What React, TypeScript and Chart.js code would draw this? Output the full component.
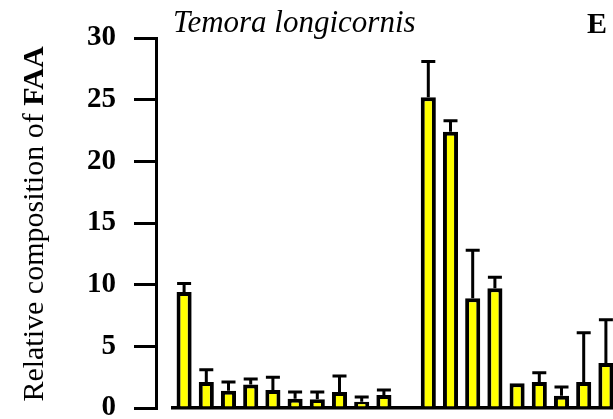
import React, { useEffect, useRef } from "react";
import { Chart, registerables } from "chart.js";

Chart.register(...registerables);

const categories = ["1", "2", "3", "4", "5", "6", "7", "8", "9", "10", "11", "12", "13", "14", "15", "16", "17", "18", "19", "20"];
const values = [9.4, 2.1, 1.4, 1.9, 1.45, 0.75, 0.7, 1.3, 0.5, 1.05, null, 25.2, 22.4, 8.9, 9.7, 2.0, 2.1, 1.0, 2.1, 3.65];
const upperErrors = [10.1, 3.1, 2.1, 2.35, 2.5, 1.3, 1.3, 2.6, 0.9, 1.45, null, 28.1, 23.3, 12.8, 10.6, null, 2.85, 1.7, 6.1, 7.15];
const yTicks = [0, 5, 10, 15, 20, 25, 30];
const titleText = "Temora longicornis";
const panelLetter = "E";
const yTitleNormal = "Relative composition of ";
const yTitleBold = "FAA";

const FONT = "'Liberation Serif', 'Times New Roman', serif";

const errorBarPlugin = {
  id: "errorBars",
  afterDatasetsDraw(chart: any) {
    const meta = chart.getDatasetMeta(0);
    const yScale = chart.scales.y;
    const ctx = chart.ctx;
    ctx.save();
    ctx.strokeStyle = "#000";
    ctx.lineWidth = 3;
    ctx.lineCap = "butt";
    meta.data.forEach((bar: any, i: number) => {
      const e = upperErrors[i];
      const v = values[i];
      if (e == null || v == null) return;
      const x = bar.x;
      const yTop = yScale.getPixelForValue(e);
      const yBar = yScale.getPixelForValue(v);
      ctx.beginPath();
      ctx.moveTo(x, yBar);
      ctx.lineTo(x, yTop);
      ctx.moveTo(x - 7, yTop);
      ctx.lineTo(x + 7, yTop);
      ctx.stroke();
    });
    ctx.restore();
  },
};

const textPlugin = {
  id: "texts",
  afterDraw(chart: any) {
    const ctx = chart.ctx;
    const area = chart.chartArea;
    ctx.save();
    ctx.fillStyle = "#000";
    ctx.textBaseline = "alphabetic";
    ctx.textAlign = "left";
    ctx.font = `italic 31px ${FONT}`;
    ctx.fillText(titleText, area.left, 32);
    ctx.font = `bold 30px ${FONT}`;
    ctx.fillText(panelLetter, 587, 33);

    // y-axis title with mixed weights
    ctx.font = `30px ${FONT}`;
    const w1 = ctx.measureText(yTitleNormal).width;
    ctx.font = `bold 30px ${FONT}`;
    const w2 = ctx.measureText(yTitleBold).width;
    const total = w1 + w2;
    const centerY = (area.top + area.bottom) / 2 + 1;
    ctx.translate(43, centerY);
    ctx.rotate(-Math.PI / 2);
    ctx.font = `30px ${FONT}`;
    ctx.fillText(yTitleNormal, -total / 2, 0);
    ctx.font = `bold 30px ${FONT}`;
    ctx.fillText(yTitleBold, -total / 2 + w1, 0);
    ctx.restore();
  },
};

export default function App() {
  const ref = useRef<HTMLCanvasElement>(null);

  useEffect(() => {
    document.body.style.margin = "0";
    document.body.style.overflow = "hidden";
    const canvas = ref.current;
    if (!canvas) return;
    const chart = new Chart(canvas, {
      type: "bar",
      data: {
        labels: categories,
        datasets: [
          {
            data: values as any,
            backgroundColor: "#ffff00",
            borderColor: "#000",
            borderWidth: 4,
            borderSkipped: "start",
            barPercentage: 0.68,
            categoryPercentage: 1,
            xAxisID: "x",
            yAxisID: "y",
          },
        ],
      },
      options: {
        responsive: false,
        animation: false,
        devicePixelRatio: 1,
        layout: { padding: { top: 38, bottom: 11, left: 0, right: 3 } },
        plugins: {
          legend: { display: false },
          tooltip: { enabled: false },
          title: { display: false },
        },
        scales: {
          x: {
            type: "category",
            offset: true,
            grid: { display: false },
            ticks: { display: false },
            border: { display: true, color: "#000", width: 3.5 },
            afterFit(s: any) {
              s.height = 0;
              s.paddingLeft = 0;
              s.paddingRight = 0;
            },
          },
          y: {
            type: "linear",
            position: "left",
            weight: 1,
            min: 0,
            max: 30,
            afterBuildTicks(s: any) {
              s.ticks = yTicks.map((v) => ({ value: v }));
            },
            ticks: {
              color: "#000",
              padding: 18,
              font: { family: FONT, size: 29, weight: "bold" },
            },
            grid: {
              display: true,
              drawOnChartArea: false,
              drawTicks: true,
              tickLength: 22,
              lineWidth: 3,
              color: "#000",
            },
            border: { display: true, color: "#000", width: 3 },
            afterFit(s: any) {
              s.width = 156;
              s.paddingTop = 0;
              s.paddingBottom = 0;
            },
          },
          gap: {
            type: "linear",
            position: "left",
            weight: 0,
            grid: { display: false },
            ticks: { display: false },
            border: { display: false },
            afterFit(s: any) {
              s.width = 17;
              s.paddingTop = 0;
              s.paddingBottom = 0;
            },
          },
        },
      } as any,
      plugins: [errorBarPlugin, textPlugin],
    });
    return () => chart.destroy();
  }, []);

  return (
    <div
      style={{
        position: "absolute",
        left: 0,
        top: 0,
        width: 613,
        height: 419,
        overflow: "hidden",
        background: "#fff",
      }}
    >
      <canvas ref={ref} width={620} height={419} style={{ display: "block" }} />
    </div>
  );
}
